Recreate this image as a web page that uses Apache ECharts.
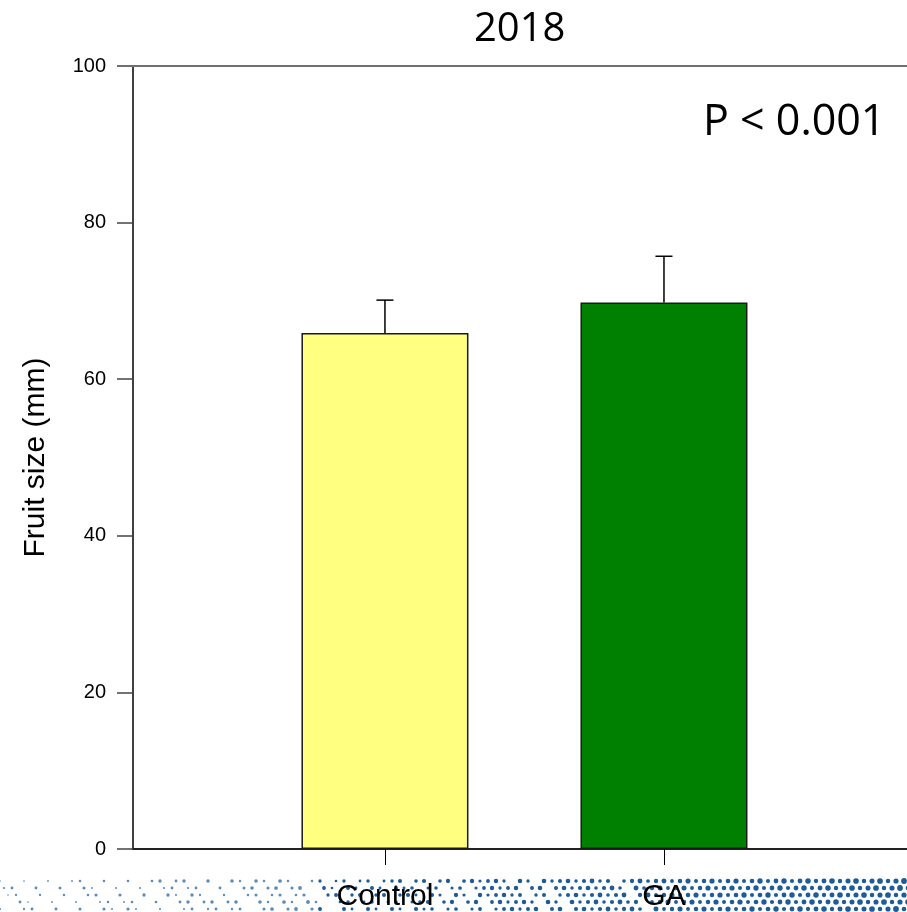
<!DOCTYPE html>
<html>
<head>
<meta charset="utf-8">
<script src="https://cdn.jsdelivr.net/npm/echarts@6/dist/echarts.min.js"></script>
<style>
  html, body { margin: 0; padding: 0; background: #fff; }
  #chart { width: 907px; height: 912px; }
</style>
</head>
<body>
<div id="chart"></div>
<script>
// Treatments, their positions on the x scale, means and upper error (mean + SE)
const categories = ['Control', 'GA'];
const positions = [1, 2];
const means = [65.9, 69.8];
const upperErrors = [70.1, 75.7];
const barColors = ['#FFFF80', '#008000'];
const yTicks = [0, 20, 40, 60, 80, 100];

// Halftone dot strip along the bottom edge of the slide
function dotStrip(w, h) {
  const c = document.createElement('canvas');
  c.width = w; c.height = h;
  const ctx = c.getContext('2d');
  const step = 8;
  for (let row = 0; row < 5; row++) {
    const y = 3 + row * 7;
    for (let i = 0; i * step < w; i++) {
      const x = i * step + (row % 2 ? step / 2 : 0);
      const t = x / w;                       // density grows to the right
      const k = (i * 7 + row * 3) % 10;
      const keep = k < 3 + t * 8;
      if (!keep) continue;
      const r = 0.8 + t * 1.5 + ((i + row) % 3) * 0.3;
      ctx.fillStyle = t < 0.35 ? 'rgba(40,100,160,0.75)' : '#1d5c98';
      ctx.beginPath();
      ctx.arc(x, y, r, 0, Math.PI * 2);
      ctx.fill();
    }
  }
  return c;
}

const chart = echarts.init(document.getElementById('chart'), null, { renderer: 'canvas' });

const option = {
  animation: false,
  backgroundColor: '#fff',
  graphic: [
    { type: 'image', left: 0, bottom: 0, z: -10, style: { image: dotStrip(907, 34), width: 907, height: 34 } },
    // top frame line of the plot
    { type: 'line', z: 1, shape: { x1: 118, y1: 66, x2: 907, y2: 66 }, style: { stroke: '#707070', lineWidth: 2 } },
    { type: 'text', left: 474, top: 10, style: { text: '2018', font: '40px "Open Sans"', fill: '#000' } },
    { type: 'text', left: 703, top: 101, style: { text: 'P < 0.001', font: '43px "Open Sans"', fill: '#000' } }
  ],
  grid: {
    left: 133, right: 0, top: 66, bottom: 63
  },
  xAxis: {
    type: 'value', min: 0.097, max: 2.871,
    splitLine: { show: false },
    axisLine: { show: true, onZero: false, lineStyle: { color: '#222', width: 2 } },
    axisTick: { show: true, customValues: positions, length: 16, lineStyle: { color: '#000', width: 1 } },
    axisLabel: {
      show: true, customValues: positions, margin: 33,
      fontFamily: 'Liberation Sans', fontSize: 30, color: '#000',
      formatter: v => categories[positions.indexOf(Math.round(v))] || ''
    }
  },
  yAxis: {
    type: 'value', min: 0, max: 100, interval: 20,
    name: 'Fruit size (mm)', nameLocation: 'middle', nameGap: 82,
    nameTextStyle: { fontFamily: 'Liberation Sans', fontSize: 30, color: '#000' },
    splitLine: { show: false },
    axisLine: { show: true, lineStyle: { color: '#000', width: 1.5 } },
    axisTick: { show: true, length: 16, lineStyle: { color: '#444', width: 1.5 } },
    axisLabel: { margin: 27, fontFamily: 'Liberation Sans', fontSize: 20, color: '#000',
                 customValues: yTicks }
  },
  series: [
    {
      type: 'bar',
      barWidth: 167,
      z: 3,
      data: positions.map((p, i) => ({
        value: [p, means[i]],
        itemStyle: { color: barColors[i], borderColor: '#1a1a1a', borderWidth: 1.5 }
      }))
    },
    {
      type: 'custom',
      z: 4,
      data: positions.map((p, i) => [p, means[i], upperErrors[i]]),
      renderItem: (params, api) => {
        const top = api.coord([api.value(0), api.value(1)]);
        const hi = api.coord([api.value(0), api.value(2)]);
        const capHalf = 8.5;
        const style = { stroke: '#000', lineWidth: 1.5 };
        return {
          type: 'group',
          children: [
            { type: 'line', shape: { x1: top[0], y1: top[1], x2: hi[0], y2: hi[1] }, style },
            { type: 'line', shape: { x1: hi[0] - capHalf, y1: hi[1], x2: hi[0] + capHalf, y2: hi[1] }, style }
          ]
        };
      }
    }
  ]
};

chart.setOption(option);
</script>
</body>
</html>
